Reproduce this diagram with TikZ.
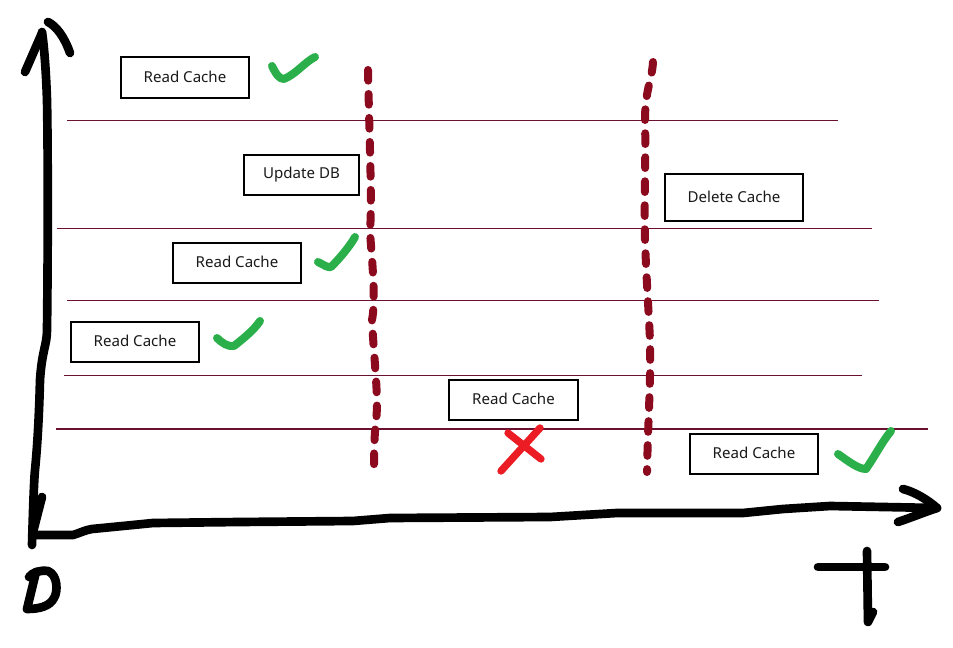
\documentclass[tikz,border=0pt]{standalone}
\usepackage{fontspec}
\setmainfont{Noto Sans}
\definecolor{lanecol}{HTML}{6B1030}
\definecolor{cutcol}{HTML}{8C0A1E}
\definecolor{okcol}{HTML}{2AAF4A}
\definecolor{badcol}{HTML}{EC1C24}
\tikzset{
  opbox/.style={draw=black, line width=0.8pt, inner sep=0pt, font=\fontsize{11.3pt}{13pt}\selectfont, text=black!90},
  lane/.style={draw=lanecol, line width=0.75pt},
  cut/.style={draw=cutcol, line width=6pt, line cap=round, dash pattern=on 8pt off 10pt},
  pen/.style={draw=black, line width=6.5pt, line cap=round, line join=round},
  okmark/.style={draw=okcol, line width=6pt, line cap=round, line join=round},
  badmark/.style={draw=badcol, line width=5.5pt, line cap=round}
}
\begin{document}
\begin{tikzpicture}[x=0.75pt, y=-0.75pt]
\useasboundingbox (0,0) rectangle (953,648);
% horizontal lanes
\draw[lane] (67,121) -- (838,121);
\draw[lane] (57,229) -- (872,229);
\draw[lane] (67,301) -- (879,301);
\draw[lane] (64,376) -- (862,376);
\draw[lane] (56,429) -- (928,429);
% boxes
\node[opbox, minimum width=128*0.75pt, minimum height=41*0.75pt] (rc1) at (185,77.5) {\raisebox{1.5pt}{Read Cache}\hspace{3pt}};
\node[opbox, minimum width=115*0.75pt, minimum height=40*0.75pt] (udb) at (301.5,175) {\raisebox{1.5pt}{Update DB}};
\node[opbox, minimum width=128*0.75pt, minimum height=40*0.75pt] (rc2) at (237,263) {\raisebox{1.5pt}{Read Cache}\hspace{3pt}};
\node[opbox, minimum width=128*0.75pt, minimum height=40*0.75pt] (rc3) at (135,342) {\raisebox{1.5pt}{Read Cache}\hspace{3pt}};
\node[opbox, minimum width=129*0.75pt, minimum height=40*0.75pt] (rc4) at (513.5,400) {\raisebox{1.5pt}{Read Cache}\hspace{3pt}};
\node[opbox, minimum width=138*0.75pt, minimum height=47*0.75pt] (dc) at (734,197.5) {\raisebox{1.5pt}{Delete Cache}};
\node[opbox, minimum width=128*0.75pt, minimum height=40*0.75pt] (rc5) at (754,454) {\raisebox{1.5pt}{Read Cache}\hspace{3pt}};
% dashed cut lines
\draw[cut] (368,70) .. controls (370,160) and (372,200) .. (370,232)
  .. controls (372,260) and (376,300) .. (372,320)
  .. controls (374,360) and (379,400) .. (376,420)
  .. controls (374,440) and (374,455) .. (374,468);
\draw[cut] (653,62) .. controls (652,80) and (645,90) .. (645,120)
  .. controls (646,160) and (644,200) .. (645,240)
  .. controls (646,270) and (648,300) .. (650,340)
  .. controls (651,380) and (648,420) .. (647,472);
% checks
\draw[okmark] (272,66) .. controls (276,74) and (279,79) .. (284,79) .. controls (296,74) and (305,62) .. (315,57);
\draw[okmark] (318,262) .. controls (324,265) and (328,268) .. (331,267) .. controls (340,258) and (350,246) .. (355,237);
\draw[okmark] (217,338) .. controls (222,343) and (228,347) .. (234,346) .. controls (244,338) and (254,330) .. (260,321);
\draw[okmark] (838,454) .. controls (848,461) and (858,469) .. (866,469) .. controls (875,456) and (882,442) .. (891,431);
% cross
\draw[badmark] (508,433) -- (541,459);
\draw[badmark] (540,428) -- (501,471);
% y axis
\draw[pen] (32,545) .. controls (33,510) and (34,480) .. (35,470)
  .. controls (37,450) and (39,420) .. (40,380)
  .. controls (42,350) and (47,345) .. (47,330)
  .. controls (48,250) and (48,150) .. (47,100)
  .. controls (46,70) and (44,45) .. (42,32);
\draw[pen] (25,72) -- (42,33);
\draw[pen] (48,22) .. controls (56,26) and (64,36) .. (70,53);
\draw[pen] (42,497) -- (33,532);
% x axis
\draw[pen] (33,535) -- (73,535) .. controls (80,533) and (85,530) .. (92,529)
  -- (133,525) -- (153,523) -- (240,522) -- (353,521) -- (390,518)
  -- (550,517) -- (617,513) -- (743,513) -- (783,509) -- (830,506) -- (937,508);
\draw[pen] (903,489) .. controls (915,492) and (928,500) .. (937,508)
  .. controls (925,512) and (910,518) .. (898,522);
% D label
\draw[pen] (36,572) -- (27,609);
\draw[pen] (29,577) .. controls (33,572) and (40,570) .. (48,571)
  .. controls (58,575) and (58,592) .. (54,598)
  .. controls (50,606) and (40,609) .. (27,609);
% t label
\draw[pen] (818,567) -- (885,567);
\draw[pen] (867,551) -- (868,622) -- (873,612);
\end{tikzpicture}
\end{document}
